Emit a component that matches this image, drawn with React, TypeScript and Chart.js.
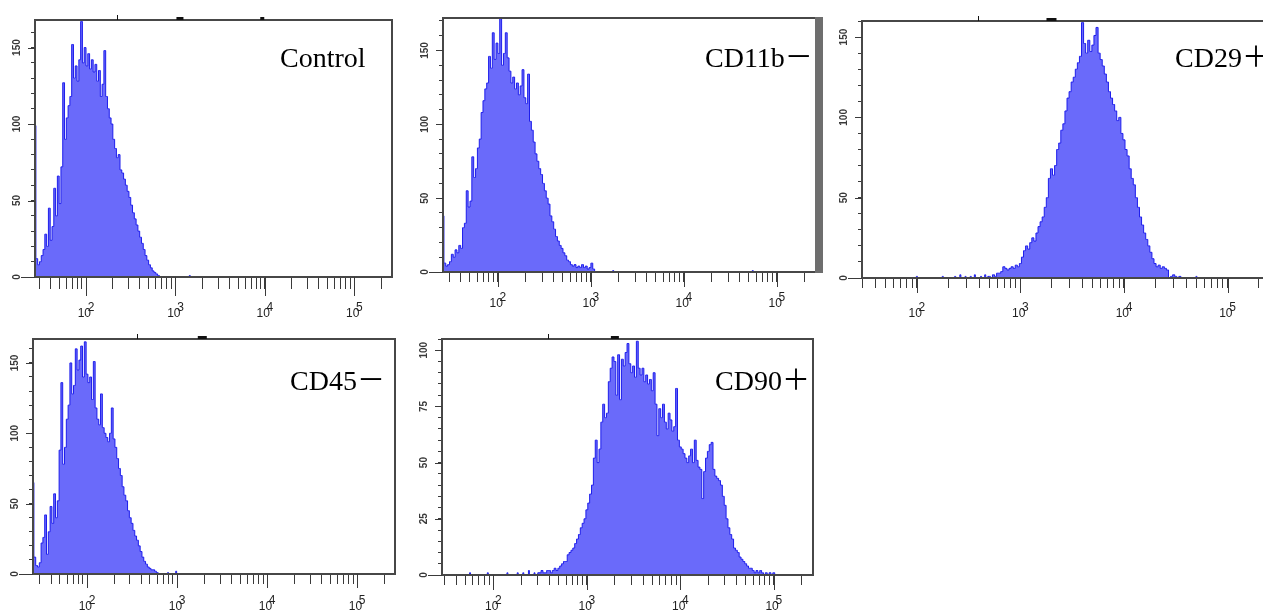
import React, { useEffect, useRef } from 'react';
import { Chart, registerables } from 'chart.js';

Chart.register(...registerables);

// ---------- data ----------
const BIN = 0.02; // histogram bin width, in decades
const X_MAX_EXP = 5.42;

const xTickValues = [30, 40, 50, 60, 70, 80, 90, 100, 200, 300, 400, 500, 600, 700, 800, 900,
  1000, 2000, 3000, 4000, 5000, 6000, 7000, 8000, 9000, 10000, 20000, 30000, 40000, 50000,
  60000, 70000, 80000, 90000, 100000, 200000];
const decadeValues = [100, 1000, 10000, 100000];
const decadeExponents = ['2', '3', '4', '5'];

const yTicksBy10 = [0, 10, 20, 30, 40, 50, 60, 70, 80, 90, 100, 110, 120, 130, 140, 150, 160, 170];
const yLabelsBy50 = [0, 50, 100, 150];
const yTicksBy5 = [0, 5, 10, 15, 20, 25, 30, 35, 40, 45, 50, 55, 60, 65, 70, 75, 80, 85, 90, 95, 100, 105];
const yLabelsBy25 = [0, 25, 50, 75, 100];

// Control
const controlStart = 1.43;
const controlCounts = [99, 12, 8, 10, 14, 18, 28, 20, 45, 24, 33, 58, 40, 66, 48, 72, 127, 90, 104, 112,
  118, 152, 130, 138, 128, 142, 167, 140, 150, 138, 146, 136, 142, 134, 139, 128, 135, 118, 126, 148,
  118, 110, 104, 100, 90, 84, 78, 80, 70, 68, 64, 60, 56, 52, 47, 42, 38, 34, 30, 26,
  22, 18, 14, 11, 8, 6, 4, 3, 2, 1, 0];
const controlEvents = [[3.16, 1]];

// CD11b-
const cd11bStart = 1.41;
const cd11bCounts = [38, 6, 4, 5, 7, 12, 10, 15, 13, 18, 16, 30, 33, 55, 44, 48, 78, 64, 70, 84,
  90, 108, 116, 124, 128, 146, 138, 162, 144, 155, 148, 172, 140, 148, 162, 145, 136, 128, 132, 124,
  128, 120, 126, 137, 118, 114, 134, 102, 96, 88, 80, 75, 70, 66, 60, 55, 50, 46, 38, 34,
  29, 24, 21, 18, 16, 13, 11, 8, 7, 5, 4, 5, 3, 4, 3, 5, 3, 4, 2, 3, 6, 2, 0];
const cd11bEvents = [[3.24, 1], [4.74, 1]];

// CD29+
const cd29Start = 2.70;
const cd29Counts = [1, 0, 2, 1, 3, 3, 4, 7, 6, 5, 6, 7, 6, 8, 7, 9, 13, 17, 20, 18,
  22, 25, 23, 28, 32, 35, 38, 44, 50, 62, 68, 64, 70, 80, 84, 92, 96, 104, 112, 116,
  122, 125, 130, 134, 138, 159, 146, 140, 148, 141, 145, 151, 156, 140, 136, 132, 127, 122, 116, 112,
  108, 104, 98, 100, 90, 86, 80, 76, 68, 62, 58, 50, 44, 38, 33, 28, 24, 20, 16, 12,
  9, 7, 8, 6, 7, 6, 5, 0, 1, 2, 1, 0, 1, 0];
const cd29Events = [[2.0, 1], [2.25, 1], [2.37, 1], [2.42, 2], [2.47, 1], [2.52, 1], [2.56, 2], [2.62, 1], [2.66, 2], [4.7, 1]];

// CD45-
const cd45Start = 1.40;
const cd45Counts = [65, 12, 6, 5, 8, 22, 26, 42, 14, 30, 48, 36, 57, 40, 52, 88, 136, 78, 90, 110,
  120, 150, 128, 134, 160, 145, 152, 162, 140, 165, 142, 136, 140, 124, 151, 118, 110, 106, 128, 104,
  100, 97, 94, 100, 118, 96, 90, 82, 75, 70, 62, 56, 52, 45, 40, 36, 31, 27, 24, 20,
  16, 12, 9, 7, 5, 4, 3, 3, 2, 1, 0];
const cd45Events = [[2.9, 1], [2.99, 2]];

// CD90+
const cd90Start = 2.50;
const cd90Counts = [1, 2, 1, 1, 2, 2, 1, 2, 3, 2, 3, 4, 5, 6, 6, 9, 10, 11, 12, 14,
  16, 18, 21, 23, 25, 29, 32, 36, 40, 52, 60, 50, 56, 68, 76, 70, 72, 86, 92, 97,
  95, 80, 98, 78, 96, 93, 99, 103, 94, 90, 93, 88, 104, 92, 89, 92, 86, 89, 85, 87,
  82, 90, 76, 62, 74, 70, 76, 68, 65, 72, 69, 64, 66, 83, 60, 57, 56, 54, 52, 50,
  53, 56, 50, 60, 51, 48, 47, 34, 46, 52, 55, 58, 59, 47, 44, 43, 42, 40, 35, 31,
  25, 21, 18, 16, 12, 11, 10, 8, 7, 6, 5, 4, 3, 3, 2, 1, 2, 1, 2, 1,
  0, 1, 0, 1, 0, 1, 0];
const cd90Events = [[1.75, 1], [1.94, 1], [2.15, 1], [2.26, 1], [2.32, 1], [2.38, 2], [2.44, 1]];

// ---------- helpers ----------
function histPoints(start: number, counts: number[], events: number[][]) {
  const pts = counts.map((c, i) => ({ x: Math.pow(10, start + i * BIN), y: c }));
  events.forEach(([e, c]) => {
    pts.push({ x: Math.pow(10, e - BIN / 2), y: 0 }, { x: Math.pow(10, e), y: c }, { x: Math.pow(10, e + BIN / 2), y: 0 });
  });
  pts.sort((a, b) => a.x - b.x);
  return pts;
}

const PAD_L = 34, PAD_T = 6, PAD_R = 12, PAD_B = 50;
const AXIS_COLOR = '#474747';
const TICK_COLOR = '#3a3a3a';
const LABEL_COLOR = '#222';

type PanelSpec = {
  title: string; titleLeft: number; titleBaseline: number;
  left: number; top: number; right: number; bottom: number;
  minExp: number; yMax: number; yTicks: number[]; yLabels: number[];
  start: number; counts: number[]; events: number[][];
  tickLen: number; majorLen: number; labelPad: number;
  marks: number[][]; rightBar?: boolean;
};

const panels: PanelSpec[] = [
  { title: 'Control', titleLeft: 280, titleBaseline: 67, left: 35, top: 15, right: 392, bottom: 277,
    minExp: 1.43, yMax: 168, yTicks: yTicksBy10, yLabels: yLabelsBy50,
    start: controlStart, counts: controlCounts, events: controlEvents,
    tickLen: 12, majorLen: 19, labelPad: 16, marks: [[2.35, 1], [3.05, 7], [3.97, 4]] },
  { title: 'CD11b－', titleLeft: 705, titleBaseline: 67, left: 443, top: 13, right: 816, bottom: 272,
    minExp: 1.41, yMax: 172, yTicks: yTicksBy10, yLabels: yLabelsBy50,
    start: cd11bStart, counts: cd11bCounts, events: cd11bEvents,
    tickLen: 10, majorLen: 15, labelPad: 13, marks: [], rightBar: true },
  { title: 'CD29＋', titleLeft: 1175, titleBaseline: 67, left: 862, top: 16, right: 1271, bottom: 278,
    minExp: 1.47, yMax: 160, yTicks: yTicksBy10, yLabels: yLabelsBy50,
    start: cd29Start, counts: cd29Counts, events: cd29Events,
    tickLen: 10, majorLen: 15, labelPad: 17, marks: [[2.59, 1], [3.3, 10]] },
  { title: 'CD45－', titleLeft: 290, titleBaseline: 390, left: 33, top: 334, right: 395, bottom: 574,
    minExp: 1.40, yMax: 167, yTicks: yTicksBy10, yLabels: yLabelsBy50,
    start: cd45Start, counts: cd45Counts, events: cd45Events,
    tickLen: 10, majorLen: 14, labelPad: 14, marks: [[2.56, 1], [3.28, 9]] },
  { title: 'CD90＋', titleLeft: 715, titleBaseline: 390, left: 442, top: 334, right: 813, bottom: 575,
    minExp: 1.45, yMax: 105, yTicks: yTicksBy5, yLabels: yLabelsBy25,
    start: cd90Start, counts: cd90Counts, events: cd90Events,
    tickLen: 10, majorLen: 15, labelPad: 13, marks: [[2.58, 1], [3.3, 8]] },
];

const framePlugin = {
  id: 'facsFrame',
  afterDraw(chart: any, _args: any, opts: any) {
    const { ctx, chartArea } = chart;
    const { left, right, top, bottom } = chartArea;
    const xs = chart.scales.x;
    const ys = chart.scales.y;
    ctx.save();
    ctx.strokeStyle = AXIS_COLOR;
    ctx.lineWidth = 2;
    ctx.strokeRect(left, top, right - left, bottom - top);
    ctx.strokeStyle = TICK_COLOR;
    ctx.lineWidth = 1;
    decadeValues.forEach((v) => {
      const px = Math.round(xs.getPixelForValue(v)) + 0.5;
      ctx.beginPath();
      ctx.moveTo(px, bottom);
      ctx.lineTo(px, bottom + opts.majorLen);
      ctx.stroke();
    });
    (opts.yLabels as number[]).forEach((v) => {
      const py = Math.round(ys.getPixelForValue(v)) + 0.5;
      const len = v === 0 ? 14 : 7;
      ctx.beginPath();
      ctx.moveTo(left - len, py);
      ctx.lineTo(left, py);
      ctx.stroke();
    });
    ctx.fillStyle = '#111';
    (opts.marks as number[][]).forEach(([e, w]) => {
      const px = xs.getPixelForValue(Math.pow(10, e));
      if (w > 1) ctx.fillRect(px - w / 2, top - 3, w, 3);
      else ctx.fillRect(Math.round(px), top - 5, 1, 5);
    });
    if (opts.rightBar) {
      ctx.fillStyle = '#6e6e6e';
      ctx.fillRect(right - 1, top - 1, 8, bottom - top + 2);
    }
    ctx.restore();
  },
};

function FacsPanel({ p }: { p: PanelSpec }) {
  const ref = useRef<HTMLCanvasElement>(null);
  const W = p.right - p.left + PAD_L + PAD_R;
  const H = p.bottom - p.top + PAD_T + PAD_B;
  useEffect(() => {
    const chart = new Chart(ref.current as HTMLCanvasElement, {
      type: 'line',
      data: {
        datasets: [{
          data: histPoints(p.start, p.counts, p.events),
          borderColor: 'rgb(30,30,236)',
          backgroundColor: 'rgb(106,106,250)',
          borderWidth: 1,
          fill: 'origin',
          stepped: 'middle',
          pointRadius: 0,
          tension: 0,
        }],
      },
      options: {
        responsive: false,
        animation: false,
        devicePixelRatio: 1,
        events: [],
        layout: { padding: { left: 0, top: PAD_T, right: PAD_R, bottom: 0 } },
        plugins: {
          legend: { display: false },
          tooltip: { enabled: false },
          facsFrame: { majorLen: p.majorLen, yLabels: p.yLabels, marks: p.marks, rightBar: !!p.rightBar },
        } as any,
        scales: {
          x: {
            type: 'logarithmic',
            min: Math.pow(10, p.minExp),
            max: Math.pow(10, X_MAX_EXP),
            afterBuildTicks: (s: any) => {
              s.ticks = xTickValues.filter((v) => v >= s.min && v <= s.max).map((v) => ({ value: v }));
            },
            afterFit: (s: any) => { s.height = PAD_B; },
            grid: { drawOnChartArea: false, drawTicks: true, tickLength: p.tickLen, tickColor: TICK_COLOR, tickWidth: 1 },
            border: { display: true, color: AXIS_COLOR, width: 2 },
            ticks: {
              autoSkip: false, maxRotation: 0, minRotation: 0, padding: p.labelPad, color: LABEL_COLOR,
              font: { family: '"Liberation Sans", Arial, sans-serif', size: 12, lineHeight: 0.46 },
              callback: (v: any) => {
                const i = decadeValues.indexOf(Number(v));
                return i < 0 ? '' : ['   ' + decadeExponents[i], '10 '];
              },
            },
          },
          y: {
            type: 'linear',
            min: 0,
            max: p.yMax,
            afterBuildTicks: (s: any) => {
              s.ticks = p.yTicks.filter((v) => v <= p.yMax).map((v) => ({ value: v }));
            },
            afterFit: (s: any) => { s.width = PAD_L; },
            grid: { drawOnChartArea: false, drawTicks: true, tickLength: 4, tickColor: TICK_COLOR, tickWidth: 1 },
            border: { display: true, color: AXIS_COLOR, width: 2 },
            ticks: {
              autoSkip: false, minRotation: 90, maxRotation: 90, crossAlign: 'center', padding: 5,
              color: '#3a3a3a',
              font: { family: '"Liberation Sans", Arial, sans-serif', size: 10, weight: 'bold' },
              callback: (v: any) => (p.yLabels.indexOf(Number(v)) >= 0 ? String(v) : ''),
            },
          },
        } as any,
      },
      plugins: [framePlugin as any],
    });
    return () => chart.destroy();
  }, []);
  return (
    <canvas
      ref={ref}
      width={W}
      height={H}
      style={{ position: 'absolute', left: p.left - PAD_L, top: p.top - PAD_T, width: W, height: H }}
    />
  );
}

export default function App() {
  return (
    <div style={{ position: 'absolute', left: 0, top: 0, width: 1263, height: 612, overflow: 'hidden', background: '#fff' }}>
      {panels.map((p) => <FacsPanel key={p.title} p={p} />)}
      {panels.map((p) => (
        <div
          key={'t' + p.title}
          style={{
            position: 'absolute', left: p.titleLeft, top: p.titleBaseline - 23.5,
            fontFamily: '"Liberation Serif", "Times New Roman", "Noto Sans CJK SC", serif',
            fontSize: 28, lineHeight: '28px', whiteSpace: 'nowrap', color: '#000',
          }}
        >
          {p.title}
        </div>
      ))}
    </div>
  );
}
